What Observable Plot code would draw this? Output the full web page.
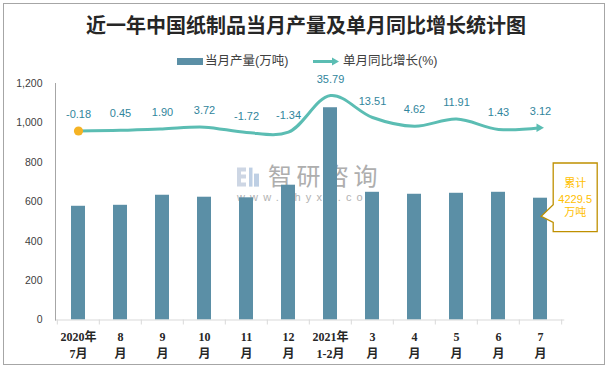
<!DOCTYPE html>
<html>
<head>
<meta charset="utf-8">
<script src="https://cdn.jsdelivr.net/npm/d3@7"></script>
<script src="https://cdn.jsdelivr.net/npm/@observablehq/plot@0.6"></script>
<style>
  body { margin: 0; background: #fff; }
  #wrap { position: relative; width: 612px; height: 369px; overflow: hidden; background: #fff;
          font-family: "Liberation Sans", "Noto Sans CJK SC", sans-serif; }
  #frame { position: absolute; left: 3px; top: 3px; width: 602px; height: 362px; box-sizing: border-box;
           border: 1px solid #a6a6a6; pointer-events: none; }
  #title { position: absolute; left: 0; top: 16px; width: 612px; text-align: center; font-size: 20px;
           line-height: 21px; font-weight: bold; color: #262626;
           font-family: "Liberation Serif", "Noto Sans CJK SC", serif; }
  .leg { position: absolute; top: 53px; font-size: 12.5px; line-height: 17px; color: #404040; white-space: nowrap; }
  #chart { position: absolute; left: 0; top: 72px; }
</style>
</head>
<body>
<div id="wrap">
  <div id="title">近一年中国纸制品当月产量及单月同比增长统计图</div>
  <div class="leg" style="left:177px;top:58px;width:26px;height:7px;background:#5B8FA6;"></div>
  <div class="leg" style="left:205px;">当月产量(万吨)</div>
  <svg class="leg" style="left:312px;top:55px;" width="28" height="13">
    <line x1="1" y1="6.5" x2="21" y2="6.5" stroke="#5BBDB3" stroke-width="3"></line>
    <path d="M20,2.5 L27,6.5 L20,10.5 Z" fill="#5BBDB3"></path>
  </svg>
  <div class="leg" style="left:343px;">单月同比增长(%)</div>
  <div id="chart"></div>
  <div id="frame"></div>
</div>
<script>
// ---- data ----
const categories = ["2020年7月","8月","9月","10月","11月","12月","2021年1-2月","3月","4月","5月","6月","7月"];
const tickLabels = ["2020年\n7月","8\n月","9\n月","10\n月","11\n月","12\n月","2021年\n1-2月","3\n月","4\n月","5\n月","6\n月","7\n月"];
const output = [577, 582, 633, 623, 620, 684, 1077, 648, 638, 643, 648, 618];   // 当月产量(万吨)
const growth = [-0.18, 0.45, 1.90, 3.72, -1.72, -1.34, 35.79, 13.51, 4.62, 11.91, 1.43, 3.12]; // 单月同比增长(%)
const yTicks = [0, 200, 400, 600, 800, 1000, 1200];
const yDomain = [0, 1200];
const growthAxis = [-192, 48];   // hidden secondary axis
const totalLabel = ["累计", "4229.5", "万吨"];

// ---- layout / style ----
const W = 612, H = 297;
const mL = 55, mR = 48.7, mT = 11, mB = 49.5;
const padIn = 0.67, padOut = 0.335;
const step = (W - mL - mR) / (categories.length - padIn + 2 * padOut);
const barColor = "#5B8FA6", lineColor = "#5BBDB3", labelColor = "#31859C";
const font = "'Liberation Sans', 'Noto Sans CJK SC', sans-serif";

const toPrimary = v => yDomain[0] + (v - growthAxis[0]) / (growthAxis[1] - growthAxis[0]) * (yDomain[1] - yDomain[0]);
const data = categories.map((c, i) => ({cat: c, label: tickLabels[i], output: output[i], growth: growth[i], g: toPrimary(growth[i])}));
const last = data[data.length - 1];

const chart = Plot.plot({
  width: W, height: H,
  marginLeft: mL, marginRight: mR, marginTop: mT, marginBottom: mB,
  style: {fontFamily: font, fontSize: "11px", color: "#595959", background: "transparent", overflow: "visible"},
  x: {type: "band", domain: categories, paddingInner: padIn, paddingOuter: padOut, axis: null},
  y: {domain: yDomain, axis: null},
  marks: [
    Plot.barY(data, {x: "cat", y: "output", fill: barColor}),
    Plot.frame({anchor: "bottom", stroke: "#D9D9D9"}),
    Plot.frame({anchor: "left", stroke: "#A6A6A6"}),
    Plot.ruleX(data, {x: "cat", y1: 0, y2: 0, insetBottom: -5, dx: -step / 2, stroke: "#D9D9D9"}),
    Plot.ruleX([last], {x: "cat", y1: 0, y2: 0, insetBottom: -5, dx: step / 2, stroke: "#D9D9D9"}),
    Plot.axisY({ticks: yTicks, tickFormat: d3.format(","), tickSize: 0, tickPadding: 13, label: null,
                fontSize: 10.5, fill: "#404040"}),
    Plot.text(data, {x: "cat", text: "label", frameAnchor: "bottom", lineAnchor: "top", dy: 9,
                     lineHeight: 1.4, fontSize: 12, fontWeight: "bold", fill: "#262626",
                     fontFamily: "'Liberation Serif', 'Noto Sans CJK SC', serif"}),
    Plot.line(data, {x: "cat", y: "g", stroke: lineColor, strokeWidth: 3, curve: "catmull-rom",
                     strokeLinecap: "butt"}),
    Plot.dot([last], {x: "cat", y: "g", symbol: "triangle", rotate: 90, r: 3.2, fill: lineColor, dx: -1.5}),
    Plot.dot([data[0]], {x: "cat", y: "g", r: 4.6, fill: "#F5B324"}),
    Plot.text(data, {x: "cat", y: "g", text: d => d.growth.toFixed(2), dy: -16.5, fill: labelColor, fontSize: 11})
  ]
});
document.getElementById("chart").appendChild(chart);

// ---- watermark (behind the marks) and callout box, positioned with the plot's scales ----
const svg = d3.select(chart);
const xs = chart.scale("x"), ys = chart.scale("y");
const bw = xs.bandwidth;
const wmX = xs.apply(categories[5]) - 13, wmY = ys.apply(725);
const wm = svg.insert("g", ":first-child").attr("opacity", 0.85).attr("text-anchor", "start");
wm.append("path")
  .attr("d", `M${wmX - 31},${wmY - 9} h9 v4 h-5 v3 h5 v4 h-5 v4 h5 v4 h-9 Z`).attr("fill", "#C5D0E0");
wm.append("rect").attr("x", wmX - 19).attr("y", wmY - 9).attr("width", 3.5).attr("height", 19).attr("fill", "#B3C7E0");
wm.append("rect").attr("x", wmX - 14).attr("y", wmY - 3).attr("width", 5).attr("height", 13).attr("fill", "#B3C7E0");
wm.append("text").attr("x", wmX).attr("y", wmY).attr("dy", "0.36em").attr("font-size", 24)
  .attr("letter-spacing", 4.5).attr("fill", "#A0A0A0").attr("font-family", font).text("智研咨询");
wm.append("text").attr("x", wmX - 31).attr("y", wmY + 20).attr("dy", "0.36em").attr("font-size", 11)
  .attr("textLength", 140).attr("lengthAdjust", "spacing").attr("fill", "#A6A6A6").attr("font-family", font).text("www.chyxx.com");

const bx = xs.apply(last.cat) + bw / 2;
const by = ys.apply(last.output);
const L = bx + 13.2, R = bx + 57.2, T = by - 34.7, B = by + 34;
const call = svg.append("g");
call.append("path")
  .attr("d", `M${L},${T} H${R} V${B} H${L} V${by + 24.7} L${bx + 1.2},${by + 18.7} L${L},${by + 7} Z`)
  .attr("fill", "#fff").attr("stroke", "#BF9000").attr("stroke-width", 1.3);
const tys = [-14.7, 1.5, 14];
totalLabel.forEach((t, i) => {
  call.append("text").attr("x", (L + R) / 2).attr("y", by + tys[i]).attr("dy", "0.36em")
    .attr("text-anchor", "middle").attr("font-size", 11).attr("fill", "#FFC000").attr("font-family", font).text(t);
});
</script>
</body>
</html>
